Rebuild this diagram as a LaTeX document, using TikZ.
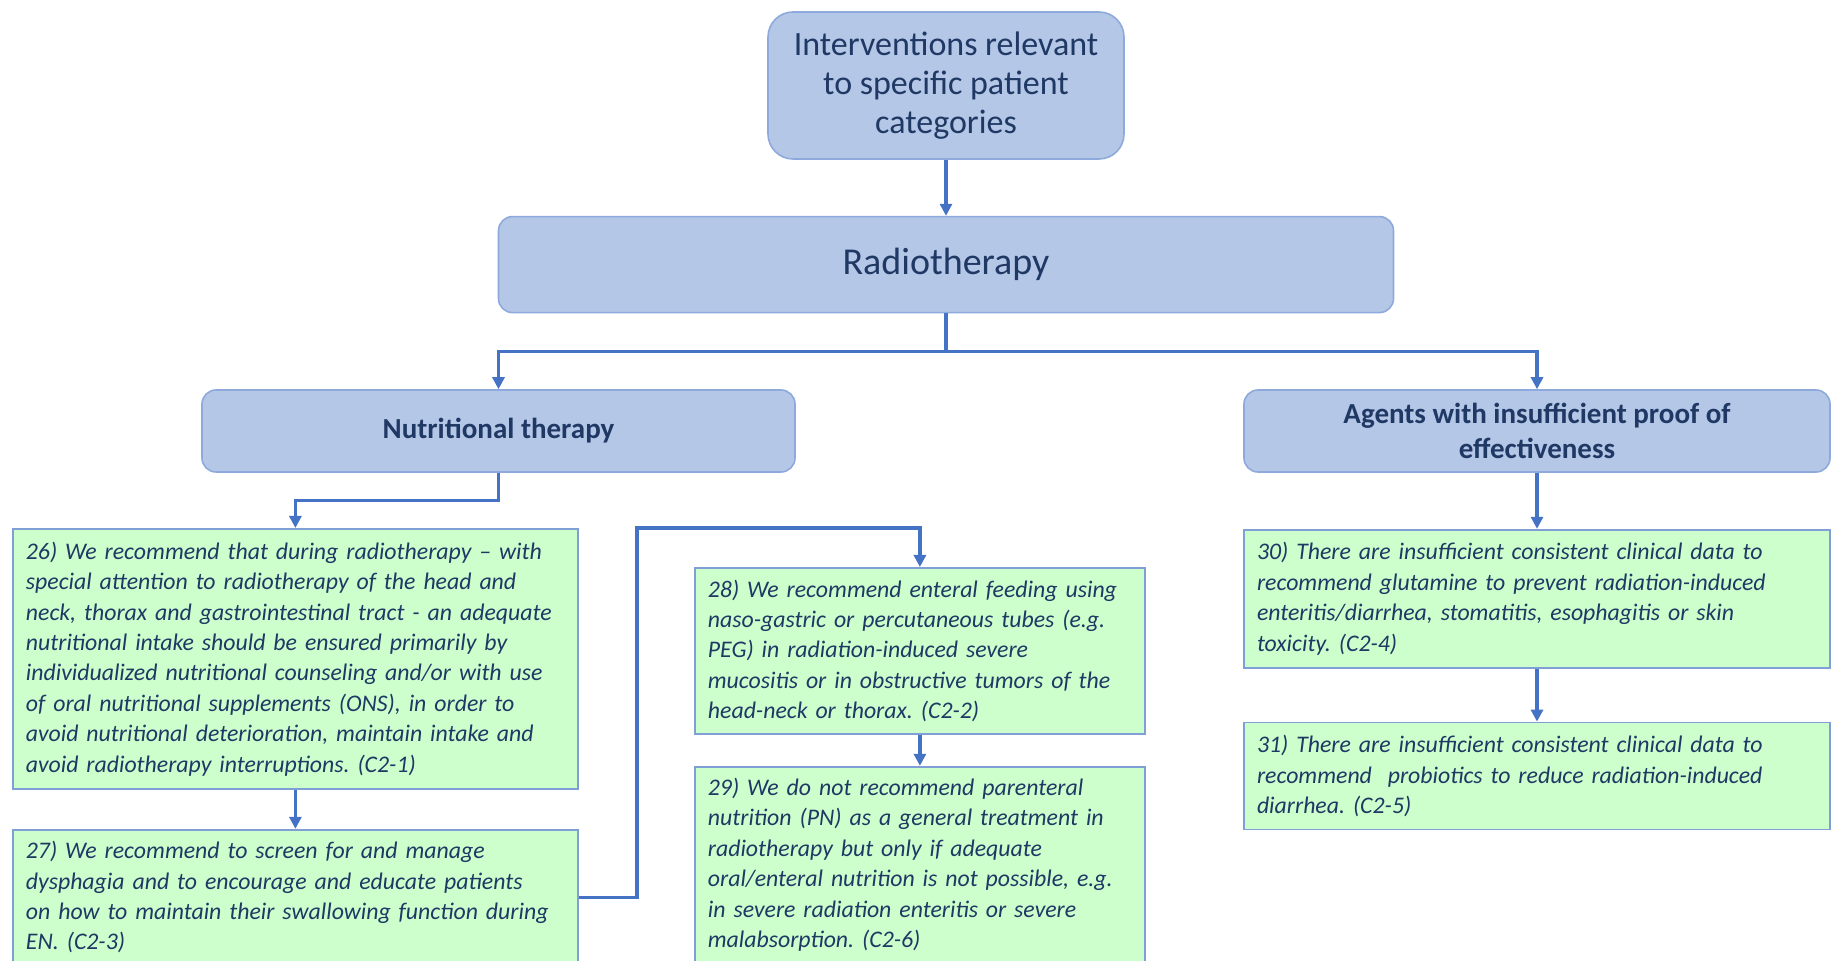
\documentclass[tikz,border=0pt]{standalone}
\usepackage{fontspec}
\setmainfont{Carlito}
\usepackage{xcolor}
\usepackage{tikz}
\usetikzlibrary{arrows.meta, positioning}
\frenchspacing

\definecolor{catfill}{HTML}{B4C7E7}
\definecolor{catline}{HTML}{8EA9DB}
\definecolor{recfill}{HTML}{CCFFCC}
\definecolor{recline}{HTML}{7F9FD6}
\definecolor{linkblue}{HTML}{4472C4}
\definecolor{txtblue}{HTML}{1F3864}

\begin{document}
\begin{tikzpicture}[
  catbox/.style={draw=catline, line width=0.8pt, fill=catfill, rounded corners=7pt,
                 text=txtblue, align=center},
  headfont/.style={font=\fontsize{14.5pt}{17.5pt}\selectfont\bfseries},
  recbox/.style={draw=recline, line width=0.9pt, fill=recfill, text=txtblue,
                 inner xsep=6.5pt, inner ysep=0pt, align=left,
                 font=\fontsize{11.9pt}{15.2pt}\selectfont\itshape},
  arr/.style={-{Triangle[length=6pt, width=6pt]}, line width=1.7pt, draw=linkblue}
]
  \path[use as bounding box, clip] (0,0) rectangle (915.5pt,-480.5pt);

  \node[catbox, rounded corners=12.5pt, minimum width=178pt, minimum height=73.5pt,
        font=\fontsize{17pt}{19.5pt}\selectfont] (intv) at (473pt,-42.75pt)
        {Interventions relevant\\to specific patient\\categories};
  \node[catbox, minimum width=447.5pt, minimum height=48pt,
        font=\fontsize{19pt}{22pt}\selectfont, below=28pt of intv] (radio) {Radiotherapy};
  \node[catbox, headfont, minimum width=296.5pt, minimum height=41pt] (nutr)
        at (249.25pt,-215.5pt) {Nutritional therapy};
  \node[catbox, headfont, minimum width=293pt, minimum height=41pt] (agents)
        at (768.5pt,-215.5pt) {Agents with insufficient proof of\\effectiveness};

  \node[recbox, text width=269.5pt, minimum height=130pt, anchor=north west] (r26)
        at (6pt,-264pt)
        {26) We recommend that during radiotherapy – with\\
         special attention to radiotherapy of the head and\\
         neck, thorax and gastrointestinal tract - an adequate\\
         nutritional intake should be ensured primarily by\\
         individualized nutritional counseling and/or with use\\
         of oral nutritional supplements (ONS), in order to\\
         avoid nutritional deterioration, maintain intake and\\
         avoid radiotherapy interruptions. (C2-1)};
  \node[recbox, text width=269.5pt, minimum height=67.5pt, below=19.5pt of r26] (r27)
        {27) We recommend to screen for and manage\\
         dysphagia and to encourage and educate patients\\
         on how to maintain their swallowing function during\\
         EN. (C2-3)};
  \node[recbox, text width=212pt, minimum height=83pt, anchor=north west] (r28)
        at (347pt,-283.5pt)
        {28) We recommend enteral feeding using\\
         naso-gastric or percutaneous tubes (e.g.\\
         PEG) in radiation-induced severe\\
         mucositis or in obstructive tumors of the\\
         head-neck or thorax. (C2-2)};
  \node[recbox, text width=212pt, minimum height=98pt, below=15.5pt of r28] (r29)
        {29) We do not recommend parenteral\\
         nutrition (PN) as a general treatment in\\
         radiotherapy but only if adequate\\
         oral/enteral nutrition is not possible, e.g.\\
         in severe radiation enteritis or severe\\
         malabsorption. (C2-6)};
  \node[recbox, text width=280pt, minimum height=69pt, below=28pt of agents] (r30)
        {30) There are insufficient consistent clinical data to\\
         recommend glutamine to prevent radiation-induced\\
         enteritis/diarrhea, stomatitis, esophagitis or skin\\
         toxicity. (C2-4)};
  \node[recbox, text width=280pt, minimum height=53.5pt, below=26.5pt of r30] (r31)
        {31) There are insufficient consistent clinical data to\\
         recommend\ \ probiotics to reduce radiation-induced\\
         diarrhea. (C2-5)};

  \draw[arr] (intv) -- (radio);
  \draw[arr] (radio.south) -- ++(0,-19pt) -| (nutr.north);
  \draw[arr] (radio.south) -- ++(0,-19pt) -| (agents.north);
  \draw[arr] (nutr.south) -- ++(0,-14pt) -| (r26.north);
  \draw[arr] (r26) -- (r27);
  \draw[arr] (r27.east) -- ++(29pt,0) |- ([yshift=19.5pt]r28.north) -- (r28.north);
  \draw[arr] (r28) -- (r29);
  \draw[arr] (agents) -- (r30);
  \draw[arr] (r30) -- (r31);
\end{tikzpicture}
\end{document}
